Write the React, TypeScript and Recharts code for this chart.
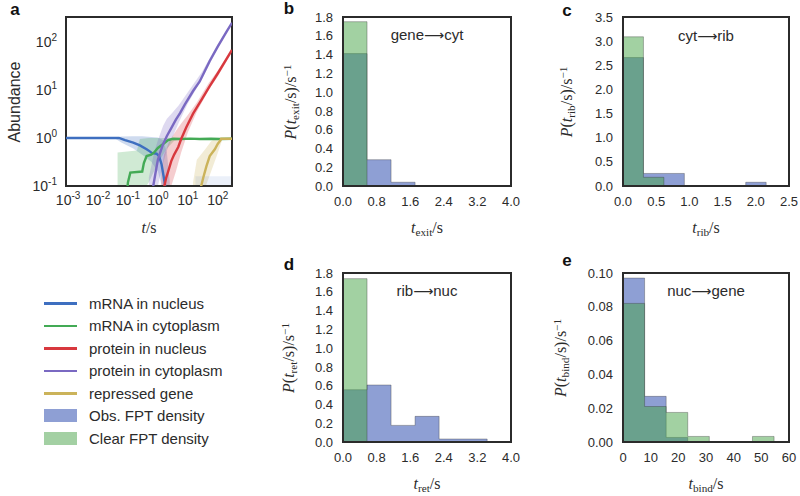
import React from 'react';
import { ComposedChart, Area, Line, XAxis, YAxis, ReferenceArea } from 'recharts';

const INK = '#2b2b2b';
const SANS = '"Liberation Sans", Arial, Helvetica, sans-serif';
const SERIF = '"Liberation Serif", "DejaVu Serif", "Times New Roman", serif';

const C_MRNA_NUC = '#3e6fc0';
const C_MRNA_CYT = '#43aa55';
const C_PROT_NUC = '#d8383e';
const C_PROT_CYT = '#7a69c2';
const C_GENE = '#cbb35a';
const C_OBS = '#8e9fd4';
const C_CLEAR = '#46a346';

// panel a: mean abundance, [t (s), abundance]
const mrnaNucleus = [
  [0.00085, 1], [0.05, 1], [0.08, 0.9], [0.15, 0.8], [0.25, 0.7], [0.42, 0.58],
  [0.55, 0.52], [0.62, 0.49], [0.9, 0.47], [1.1, 0.42], [1.33, 0.28], [1.58, 0.15],
  [1.8, 0.09], [2.1, 0.05],
];
const mrnaCytoplasm = [
  [0.088, 0.05], [0.1, 0.12], [0.12, 0.19], [0.3, 0.2], [0.34, 0.3], [0.42, 0.42],
  [0.6, 0.45], [0.75, 0.5], [1.0, 0.62], [1.5, 0.75], [2.2, 0.9], [3.2, 0.96],
  [6, 0.95], [12, 0.97], [25, 0.95], [60, 0.96], [120, 0.95], [300, 0.96],
];
const proteinNucleus = [
  [1.5, 0.05], [1.65, 0.1], [1.9, 0.15], [2.2, 0.2], [2.8, 0.33], [3.5, 0.45],
  [4.8, 0.65], [6, 0.95], [9, 1.7], [15, 3.2], [30, 6.5], [54, 12], [100, 22],
  [200, 45], [300, 68],
];
const proteinCytoplasm = [
  [0.62, 0.05], [0.7, 0.1], [0.85, 0.2], [1.0, 0.35], [1.2, 0.5], [1.5, 0.75],
  [2, 1.1], [2.8, 1.6], [4, 2.4], [5.5, 3.3], [8, 5], [15, 9.5], [25, 15],
  [54, 40], [100, 80], [200, 165], [300, 250],
];
const repressedGene = [
  [25, 0.05], [28, 0.1], [33, 0.15], [42, 0.26], [54, 0.42], [80, 0.58],
  [100, 0.75], [124, 0.9], [130, 0.96], [300, 0.96],
];

// spread around the means, [t, low, high]
const mrnaNucleusBand = [
  [0.035, 1, 1], [0.06, 0.8, 1.07], [0.15, 0.6, 1.08], [0.3, 0.45, 1.08],
  [0.6, 0.32, 1.05], [1.0, 0.2, 1.02], [1.5, 0.08, 0.9], [2.0, 0.05, 0.5], [2.5, 0.05, 0.12],
];
const mrnaNucleusTail = [
  [18, 0.05, 0.16], [300, 0.05, 0.16],
];
const mrnaCytoplasmBand = [
  [0.045, 0.05, 0.5], [0.2, 0.05, 0.55], [0.25, 0.06, 0.95], [0.5, 0.12, 1.0],
  [1.0, 0.3, 1.0], [2, 0.6, 1.0], [3.5, 0.88, 1.0], [5, 0.92, 0.99],
];
const proteinNucleusBand = [
  [1.3, 0.05, 0.2], [1.6, 0.05, 0.45], [2.5, 0.08, 0.9], [4, 0.2, 1.4], [6, 0.5, 2.0],
  [10, 1.3, 3.0], [20, 3.5, 5.5], [50, 10, 14], [100, 19, 25], [300, 62, 74],
];
const proteinCytoplasmBand = [
  [0.5, 0.05, 0.15], [0.75, 0.06, 0.5], [1.0, 0.1, 0.9], [1.5, 0.3, 1.8], [2, 0.55, 2.5],
  [3, 1.0, 3.3], [5, 2.1, 4.8], [10, 5.2, 9], [30, 17, 24], [100, 74, 89], [300, 238, 264],
];
const repressedGeneBand = [
  [15, 0.05, 0.12], [20, 0.05, 0.35], [40, 0.1, 0.6], [60, 0.2, 0.85], [90, 0.4, 1.0], [140, 0.9, 1.0],
];

// panels b-e: first passage time histograms (bin edges, densities per bin)
const exitEdges = [0, 0.572, 1.144, 1.716];
const exitObs = [1.41, 0.28, 0.04];
const exitClear = [1.75, 0, 0];

const ribEdges = [0, 0.308, 0.616, 0.924, 1.232, 1.54, 1.848, 2.156];
const ribObs = [2.66, 0.26, 0.26, 0, 0, 0, 0.077];
const ribClear = [3.09, 0.18, 0, 0, 0, 0, 0];

const retEdges = [0, 0.572, 1.144, 1.716, 2.288, 2.86, 3.432];
const retObs = [0.557, 0.607, 0.177, 0.273, 0.032, 0.032];
const retClear = [1.74, 0, 0, 0, 0, 0];

const bindEdges = [0, 7.8, 15.6, 23.4, 31.2, 39, 46.8, 54.6];
const bindObs = [0.097, 0.027, 0.0027, 0, 0, 0, 0];
const bindClear = [0.082, 0.021, 0.0175, 0.0033, 0, 0, 0.0033];

const abundTicksX = [0.001, 0.01, 0.1, 1, 10, 100];
const abundTicksY = [0.1, 1, 10, 100];
const exitTicksX = [0, 0.8, 1.6, 2.4, 3.2, 4.0];
const exitTicksY = [0, 0.2, 0.4, 0.6, 0.8, 1.0, 1.2, 1.4, 1.6, 1.8];
const ribTicksX = [0, 0.5, 1, 1.5, 2, 2.5];
const ribTicksY = [0, 0.5, 1, 1.5, 2, 2.5, 3, 3.5];
const bindTicksX = [0, 10, 20, 30, 40, 50, 60];
const bindTicksY = [0, 0.02, 0.04, 0.06, 0.08, 0.1];

const legendRows = [
  { label: 'mRNA in nucleus', color: C_MRNA_NUC, patch: false },
  { label: 'mRNA in cytoplasm', color: C_MRNA_CYT, patch: false },
  { label: 'protein in nucleus', color: C_PROT_NUC, patch: false },
  { label: 'protein in cytoplasm', color: C_PROT_CYT, patch: false },
  { label: 'repressed gene', color: C_GENE, patch: false },
  { label: 'Obs. FPT density', color: C_OBS, patch: true },
  { label: 'Clear FPT density', color: '#a3d0a3', patch: true },
];

const toLine = (pts) => pts.map(([t, v]) => ({ t, v }));
const toBand = (pts) => pts.map(([t, lo, hi]) => ({ t, r: [lo, hi] }));

const tickStyle = { fill: INK, fontSize: 13, fontFamily: SANS };

function PowTick(props) {
  const { x, y, payload, side } = props;
  const e = Math.round(Math.log10(payload.value));
  if (side === 'x') {
    return (
      <text x={x} y={y} dy={11} textAnchor="middle" fill={INK} fontSize={14} fontFamily={SANS}>
        10<tspan dy={-6} fontSize={10}>{e}</tspan>
      </text>
    );
  }
  return (
    <text x={x} y={y} dy={5} textAnchor="end" fill={INK} fontSize={14} fontFamily={SANS}>
      10<tspan dy={-6} fontSize={10}>{e}</tspan>
    </text>
  );
}

const boxA = { x0: 66, x1: 232, y0: 17, y1: 186 };
const boxB = { x0: 343, x1: 511, y0: 17, y1: 186 };
const boxC = { x0: 623, x1: 789, y0: 17, y1: 186 };
const boxD = { x0: 343, x1: 511, y0: 273, y1: 442 };
const boxE = { x0: 623, x1: 789, y0: 273, y1: 442 };

function AbundancePanel() {
  const b = boxA;
  const W = b.x1 - b.x0;
  const H = b.y1 - b.y0;
  const xDom = [0.00085, 300];
  const yDom = [0.1, 330];
  const series = [
    { pts: mrnaNucleus, band: mrnaNucleusBand, color: C_MRNA_NUC },
    { pts: mrnaCytoplasm, band: mrnaCytoplasmBand, color: C_MRNA_CYT },
    { pts: proteinNucleus, band: proteinNucleusBand, color: C_PROT_NUC },
    { pts: proteinCytoplasm, band: proteinCytoplasmBand, color: C_PROT_CYT },
    { pts: repressedGene, band: repressedGeneBand, color: C_GENE },
  ];
  return (
    <div style={{ position: 'absolute', left: b.x0 - 70, top: b.y0 - 10 }}>
      <ComposedChart width={W + 80} height={H + 50} margin={{ top: 10, right: 10, left: 0, bottom: 0 }}>
        <XAxis type="number" dataKey="t" scale="log" domain={xDom} allowDataOverflow ticks={abundTicksX}
          interval={0} tickLine={false} axisLine={false} tickSize={0} tickMargin={8} height={40}
          tick={(p) => <PowTick {...p} side="x" />} />
        <YAxis type="number" scale="log" domain={yDom} allowDataOverflow ticks={abundTicksY}
          interval={0} tickLine={false} axisLine={false} tickSize={0} tickMargin={9} width={70}
          tick={(p) => <PowTick {...p} side="y" />} />
        {series.map((s, i) => (
          <Area key={`band-${i}`} data={toBand(s.band)} dataKey="r" type="linear" fill={s.color}
            fillOpacity={0.25} stroke="none" isAnimationActive={false} />
        ))}
        <Area data={toBand(mrnaNucleusTail)} dataKey="r" type="linear" fill={C_MRNA_NUC}
          fillOpacity={0.1} stroke="none" isAnimationActive={false} />
        {series.map((s, i) => (
          <Line key={`line-${i}`} data={toLine(s.pts)} dataKey="v" type="linear" stroke={s.color}
            strokeWidth={2.4} dot={false} isAnimationActive={false} />
        ))}
        <ReferenceArea x1={xDom[0]} x2={xDom[1]} y1={yDom[0]} y2={yDom[1]} fill="none" fillOpacity={0}
          stroke={INK} strokeWidth={2} ifOverflow="visible" />
      </ComposedChart>
    </div>
  );
}

function HistPanel({ box, edges, obs, clear, xMax, yMax, xTicks, yTicks, xFmt, yFmt }) {
  const W = box.x1 - box.x0;
  const H = box.y1 - box.y0;
  const data = edges.map((x, i) => ({ x, obs: obs[i] ?? 0, clear: clear[i] ?? 0 }));
  return (
    <div style={{ position: 'absolute', left: box.x0 - 70, top: box.y0 - 10 }}>
      <ComposedChart width={W + 80} height={H + 50} data={data} margin={{ top: 10, right: 10, left: 0, bottom: 0 }}>
        <XAxis type="number" dataKey="x" domain={[0, xMax]} allowDataOverflow ticks={xTicks} interval={0}
          tickFormatter={xFmt} tickLine={false} axisLine={false} tickSize={0} tickMargin={11} height={40}
          tick={tickStyle} />
        <YAxis type="number" domain={[0, yMax]} allowDataOverflow ticks={yTicks} interval={0}
          tickFormatter={yFmt} tickLine={false} axisLine={false} tickSize={0} tickMargin={10} width={70}
          tick={tickStyle} />
        <Area dataKey="obs" type="stepAfter" fill={C_OBS} fillOpacity={1} stroke="#333" strokeOpacity={0.35}
          strokeWidth={1} isAnimationActive={false} />
        <Area dataKey="clear" type="stepAfter" fill={C_CLEAR} fillOpacity={0.5} stroke="#333" strokeOpacity={0.35}
          strokeWidth={1} isAnimationActive={false} />
        <ReferenceArea x1={0} x2={xMax} y1={0} y2={yMax} fill="none" fillOpacity={0}
          stroke={INK} strokeWidth={2} ifOverflow="visible" />
      </ComposedChart>
    </div>
  );
}

function Txt({ x, y, rotate, style, children }) {
  return (
    <div style={{
      position: 'absolute', left: x, top: y, whiteSpace: 'nowrap', lineHeight: 1, color: INK,
      transform: `translate(-50%, -50%)${rotate ? ' rotate(-90deg)' : ''}`, ...style,
    }}>{children}</div>
  );
}

const Sub = ({ children }) => (
  <span style={{ fontSize: '0.7em', position: 'relative', top: '0.3em' }}>{children}</span>
);
const Sup = ({ children }) => (
  <span style={{ fontSize: '0.7em', position: 'relative', top: '-0.45em' }}>{children}</span>
);

function TLabel({ sub }) {
  return (<span><i>t</i>{sub ? <Sub>{sub}</Sub> : null}/s</span>);
}
function PLabel({ sub }) {
  return (<span><i>P</i>(<i>t</i><Sub>{sub}</Sub>/s)/s<Sup>−1</Sup></span>);
}

const mathStyle = { fontFamily: SERIF, fontSize: 16 };
const titleStyle = { fontFamily: SANS, fontSize: 15 };
const letterStyle = { fontFamily: SANS, fontSize: 17, fontWeight: 'bold', color: '#111' };
const Arrow = () => <span style={{ fontFamily: '"DejaVu Sans", sans-serif', fontSize: 14 }}>⟶</span>;

const cx = (b) => (b.x0 + b.x1) / 2;
const cy = (b) => (b.y0 + b.y1) / 2;

export default function App() {
  const f1 = (v) => v.toFixed(1);
  const f2 = (v) => v.toFixed(2);
  const f0 = (v) => v.toFixed(0);
  return (
    <div style={{ position: 'absolute', left: 0, top: 0, width: 800, height: 496, background: '#fff', overflow: 'hidden' }}>
      <AbundancePanel />
      <HistPanel box={boxB} edges={exitEdges} obs={exitObs} clear={exitClear} xMax={4} yMax={1.8}
        xTicks={exitTicksX} yTicks={exitTicksY} xFmt={f1} yFmt={f1} />
      <HistPanel box={boxC} edges={ribEdges} obs={ribObs} clear={ribClear} xMax={2.5} yMax={3.5}
        xTicks={ribTicksX} yTicks={ribTicksY} xFmt={f1} yFmt={f1} />
      <HistPanel box={boxD} edges={retEdges} obs={retObs} clear={retClear} xMax={4} yMax={1.8}
        xTicks={exitTicksX} yTicks={exitTicksY} xFmt={f1} yFmt={f1} />
      <HistPanel box={boxE} edges={bindEdges} obs={bindObs} clear={bindClear} xMax={60} yMax={0.1}
        xTicks={bindTicksX} yTicks={bindTicksY} xFmt={f0} yFmt={f2} />

      <Txt x={15} y={cy(boxA)} rotate style={{ fontFamily: SANS, fontSize: 16 }}>Abundance</Txt>
      <Txt x={cx(boxA)} y={228} style={mathStyle}><TLabel /></Txt>
      <Txt x={cx(boxB)} y={228} style={mathStyle}><TLabel sub="exit" /></Txt>
      <Txt x={cx(boxC)} y={228} style={mathStyle}><TLabel sub="rib" /></Txt>
      <Txt x={cx(boxD)} y={484} style={mathStyle}><TLabel sub="ret" /></Txt>
      <Txt x={cx(boxE)} y={484} style={mathStyle}><TLabel sub="bind" /></Txt>

      <Txt x={291} y={cy(boxB)} rotate style={mathStyle}><PLabel sub="exit" /></Txt>
      <Txt x={567} y={cy(boxC)} rotate style={mathStyle}><PLabel sub="rib" /></Txt>
      <Txt x={289} y={cy(boxD)} rotate style={mathStyle}><PLabel sub="ret" /></Txt>
      <Txt x={561} y={cy(boxE)} rotate style={mathStyle}><PLabel sub="bind" /></Txt>

      <Txt x={cx(boxB)} y={boxB.y0 + 17} style={titleStyle}>gene<Arrow />cyt</Txt>
      <Txt x={cx(boxC)} y={boxC.y0 + 18} style={titleStyle}>cyt<Arrow />rib</Txt>
      <Txt x={cx(boxD)} y={boxD.y0 + 17} style={titleStyle}>rib<Arrow />nuc</Txt>
      <Txt x={cx(boxE)} y={boxE.y0 + 17} style={titleStyle}>nuc<Arrow />gene</Txt>

      <Txt x={15} y={9} style={letterStyle}>a</Txt>
      <Txt x={289} y={8} style={letterStyle}>b</Txt>
      <Txt x={567} y={10} style={letterStyle}>c</Txt>
      <Txt x={289} y={264} style={letterStyle}>d</Txt>
      <Txt x={567} y={260} style={letterStyle}>e</Txt>

      <div style={{ position: 'absolute', left: 44, top: 292, fontFamily: SANS, fontSize: 15, color: INK }}>
        {legendRows.map((r) => (
          <div key={r.label} style={{ display: 'flex', alignItems: 'center', height: 22.5 }}>
            <div style={{ width: 33, height: r.patch ? 13 : 2.5, background: r.color, marginRight: 12 }} />
            <span>{r.label}</span>
          </div>
        ))}
      </div>
    </div>
  );
}
